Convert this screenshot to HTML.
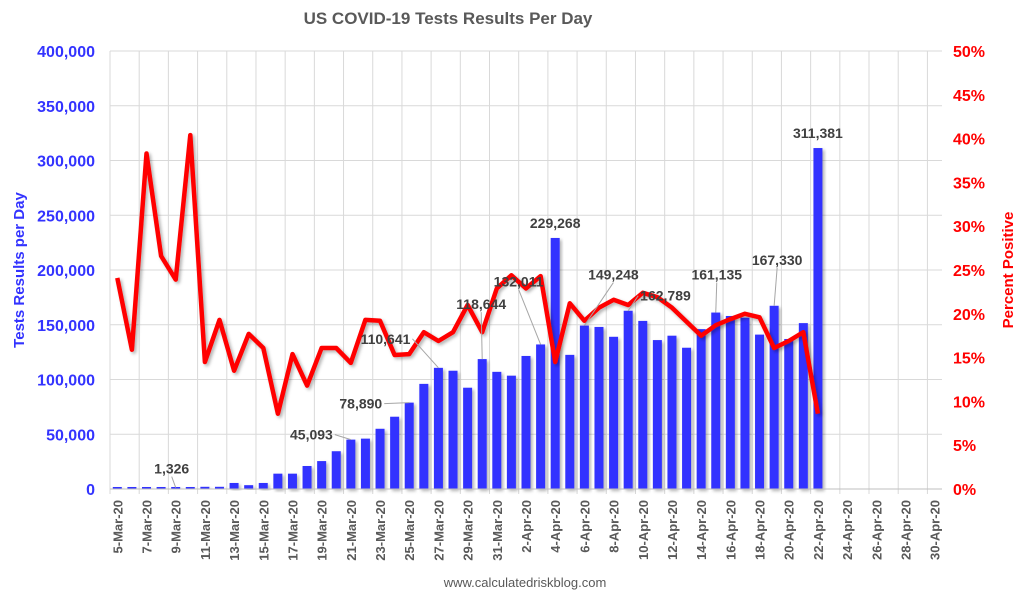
<!DOCTYPE html>
<html><head><meta charset="utf-8"><style>
body{margin:0;background:#fff;}
svg{display:block;font-family:"Liberation Sans",sans-serif;}
</style></head><body>
<svg id="chart" width="1028" height="597" viewBox="0 0 1028 597">
<defs><filter id="sh" x="-20%" y="-20%" width="160%" height="140%"><feDropShadow dx="2" dy="2" stdDeviation="1.5" flood-color="#000" flood-opacity="0.3"/></filter></defs>
<text x="448" y="24" text-anchor="middle" font-size="17" font-weight="bold" fill="#595959">US COVID-19 Tests Results Per Day</text>
<g id="grid"></g><g id="bars"></g><g id="line"></g><g id="labels"></g><g id="axes"></g>
<text transform="translate(24,270) rotate(-90)" text-anchor="middle" font-size="15" font-weight="bold" fill="#3333ff">Tests Results per Day</text>
<text transform="translate(1013,270) rotate(-90)" text-anchor="middle" font-size="15" font-weight="bold" fill="#ff0000">Percent Positive</text>
<text x="525" y="587" text-anchor="middle" font-size="13" fill="#595959">www.calculatedriskblog.com</text>
</svg>
<script>
const categories=["5-Mar-20","6-Mar-20","7-Mar-20","8-Mar-20","9-Mar-20","10-Mar-20","11-Mar-20","12-Mar-20","13-Mar-20","14-Mar-20","15-Mar-20","16-Mar-20","17-Mar-20","18-Mar-20","19-Mar-20","20-Mar-20","21-Mar-20","22-Mar-20","23-Mar-20","24-Mar-20","25-Mar-20","26-Mar-20","27-Mar-20","28-Mar-20","29-Mar-20","30-Mar-20","31-Mar-20","1-Apr-20","2-Apr-20","3-Apr-20","4-Apr-20","5-Apr-20","6-Apr-20","7-Apr-20","8-Apr-20","9-Apr-20","10-Apr-20","11-Apr-20","12-Apr-20","13-Apr-20","14-Apr-20","15-Apr-20","16-Apr-20","17-Apr-20","18-Apr-20","19-Apr-20","20-Apr-20","21-Apr-20","22-Apr-20","23-Apr-20","24-Apr-20","25-Apr-20","26-Apr-20","27-Apr-20","28-Apr-20","29-Apr-20","30-Apr-20"];
const tests=[300,400,500,700,1326,1000,2000,2000,5500,3500,5500,14000,14000,21000,25500,34500,45093,46000,55000,66000,78890,96000,110641,108000,92500,118644,107000,103500,121500,132011,229268,122500,149248,148000,139000,162789,153500,136000,140000,129000,146000,161135,158000,156500,141000,167330,137000,151500,311381];
const pctPositive=[24.1,15.9,38.3,26.6,23.9,40.4,14.5,19.3,13.5,17.7,16.1,8.6,15.4,11.8,16.1,16.1,14.4,19.3,19.2,15.3,15.4,17.9,16.9,17.9,21.0,17.9,22.9,24.4,22.9,24.3,14.5,21.2,19.2,20.7,21.6,21.0,22.4,21.9,20.7,19.1,17.5,18.7,19.4,20.0,19.6,16.1,16.9,17.9,8.6];
const leftTicks=[0,50000,100000,150000,200000,250000,300000,350000,400000];
const rightTicks=[0,5,10,15,20,25,30,35,40,45,50];
const labeled=[{i:4,dx:-4,dy:-14,a:"middle",l:1},{i:16,dx:-18,dy:0,a:"end",l:1},{i:20,dx:-27,dy:6,a:"end",l:1},{i:22,dx:-28,dy:-24,a:"end",l:1},{i:25,dx:-1,dy:-50,a:"middle",l:1},{i:29,dx:-22,dy:-58,a:"middle",l:1},{i:30,dx:0,dy:-10,a:"middle",l:0},{i:32,dx:29,dy:-46,a:"middle",l:1},{i:35,dx:12,dy:-10,a:"start",l:1},{i:41,dx:1,dy:-33,a:"middle",l:1},{i:45,dx:3,dy:-41,a:"middle",l:1},{i:48,dx:0,dy:-10,a:"middle",l:0}];
const NS="http://www.w3.org/2000/svg";
const X0=110,X1=942,Y0=489,YT=51;
const band=(X1-X0)/categories.length;
const xc=i=>X0+band*(i+0.5);
const yL=v=>Y0-(v/400000)*(Y0-YT);
const yR=v=>Y0-(v/50)*(Y0-YT);
function mk(tag,attrs,parent){const e=document.createElementNS(NS,tag);for(const k in attrs)e.setAttribute(k,attrs[k]);document.getElementById(parent).appendChild(e);return e;}
const fmt=v=>v.toLocaleString("en-US");
leftTicks.forEach(t=>{
 const g=mk("line",{x1:X0,x2:X1,y1:yL(t),y2:yL(t),stroke:"#d9d9d9","stroke-width":1},"grid");
 
 
 const tx=mk("text",{x:95,y:yL(t)+6,"text-anchor":"end","font-size":16,"font-weight":"bold",fill:"#3333ff"},"axes");
 tx.textContent=fmt(t);
 
 
});
rightTicks.forEach(t=>{
 const tx=mk("text",{x:953,y:yR(t)+6,"text-anchor":"start","font-size":16,"font-weight":"bold",fill:"#ff0000"},"axes");
 tx.textContent=t+"%";
 
 
});
for(let i=0;i<=categories.length;i+=2){
 const x=X0+band*i;
 const g=mk("line",{x1:x,x2:x,y1:YT,y2:Y0+5,stroke:"#d9d9d9","stroke-width":1},"grid");
 
 
}
categories.forEach((c,i)=>{
 if(i%2) return;
 const tx=mk("text",{transform:`translate(${xc(i)+5},500) rotate(-90)`,"text-anchor":"end","font-size":13,"font-weight":"bold",fill:"#595959"},"axes");
 tx.textContent=c;
 
 
});
const ax=mk("line",{x1:X0,x2:X1,y1:Y0,y2:Y0,stroke:"#bfbfbf","stroke-width":1},"axes");


tests.forEach((v,i)=>{
 const y=Math.min(yL(v),Y0-2);
 const b=mk("rect",{x:xc(i)-4.5,y:y,width:9,height:Y0-y,fill:"#3333ff",filter:"url(#sh)"},"bars");
 
 
});
const pts=pctPositive.map((v,i)=>xc(i).toFixed(1)+","+yR(v).toFixed(1)).join(" ");
const pl=mk("polyline",{points:pts,fill:"none",stroke:"#ff0000","stroke-width":4.5,"stroke-linejoin":"round",filter:"url(#sh)"},"line");


labeled.forEach(o=>{
 const v=tests[o.i],bx=xc(o.i),by=yL(v);
 const lx=bx+o.dx,ly=by+o.dy;
 if(o.l){
  const ex=o.a==="end"?lx+2:(o.a==="start"?lx-2:lx);
  const ey=o.a==="middle"?ly+3:ly-5;
  const ln=mk("line",{x1:bx,y1:by,x2:ex,y2:ey,stroke:"#a6a6a6","stroke-width":1},"labels");
  
  
 }
 const tx=mk("text",{x:lx,y:ly,"text-anchor":o.a,"font-size":14,"font-weight":"bold",fill:"#404040"},"labels");
 tx.textContent=fmt(v);
 
 
});
</script>
</body></html>
